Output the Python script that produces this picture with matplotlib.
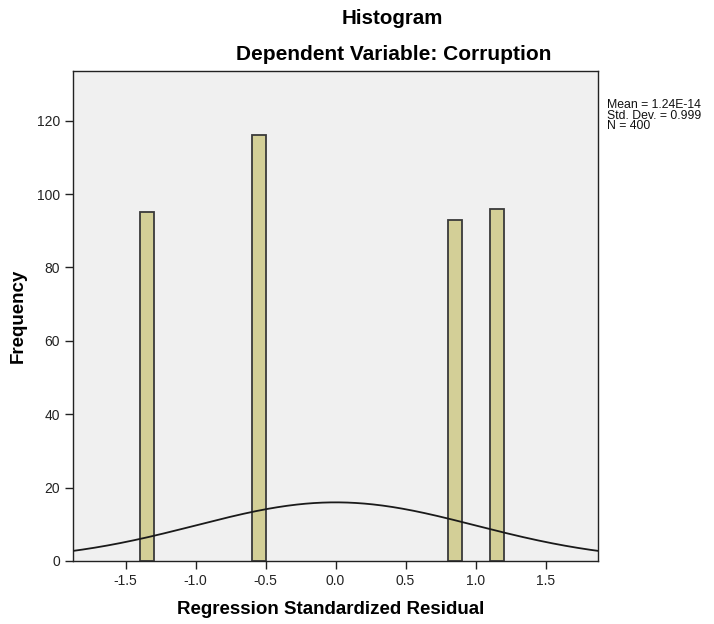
import numpy as np
import matplotlib
matplotlib.use("Agg")
import matplotlib.pyplot as plt

plt.rcParams['font.family'] = ['Liberation Sans', 'DejaVu Sans']

# Histogram bins (bin width 0.1) and counts
bin_left = [-1.4, -0.6, 0.8, 1.1]
counts = [95, 116, 93, 96]
bin_width = 0.1

mean = 1.24e-14
std = 0.999
n = 400

fig = plt.figure(figsize=(7.14, 6.24), dpi=100)
ax = fig.add_axes([0.1022, 0.101, 0.7353, 0.7845])
ax.set_facecolor('#f0f0f0')

ax.bar(bin_left, counts, width=bin_width, align='edge',
       color='#d3cf97', edgecolor='#3a3a3a', linewidth=1.3, zorder=2)

# normal curve scaled to counts
xs = np.linspace(-2.0, 2.0, 400)
ys = n * bin_width * np.exp(-0.5 * ((xs - mean) / std) ** 2) / (std * np.sqrt(2 * np.pi))
ax.plot(xs, ys, color='#1a1a1a', linewidth=1.3, zorder=3)

ax.set_xlim(-1.876, 1.874)
ax.set_ylim(0, 133.4)
ax.set_xticks([-1.5, -1.0, -0.5, 0.0, 0.5, 1.0, 1.5])
ax.set_xticklabels(['-1.5', '-1.0', '-0.5', '0.0', '0.5', '1.0', '1.5'])
ax.set_yticks([0, 20, 40, 60, 80, 100, 120])
ax.tick_params(axis='both', labelsize=10, length=6, width=1, color='#222222', labelcolor='#222222')
for s in ax.spines.values():
    s.set_color('#222222')
    s.set_linewidth(1)

ax.set_xlabel('Regression Standardized Residual', fontsize=13.5, fontweight='bold')
ax.set_ylabel('Frequency', fontsize=13.5, fontweight='bold', labelpad=7)
ax.xaxis.set_label_coords(0.49, -0.081)

fig.text(0.55, 0.971, 'Histogram', ha='center', va='center', fontsize=14.8, fontweight='bold')
fig.text(0.552, 0.912, 'Dependent Variable: Corruption', ha='center', va='center',
         fontsize=15, fontweight='bold')

fig.text(0.85, 0.842, 'Mean = 1.24E-14\nStd. Dev. = 0.999\nN = 400',
         ha='left', va='top', fontsize=8.8, linespacing=0.88, color='#111111')

fig.savefig('out.png', dpi=100, facecolor='white')
